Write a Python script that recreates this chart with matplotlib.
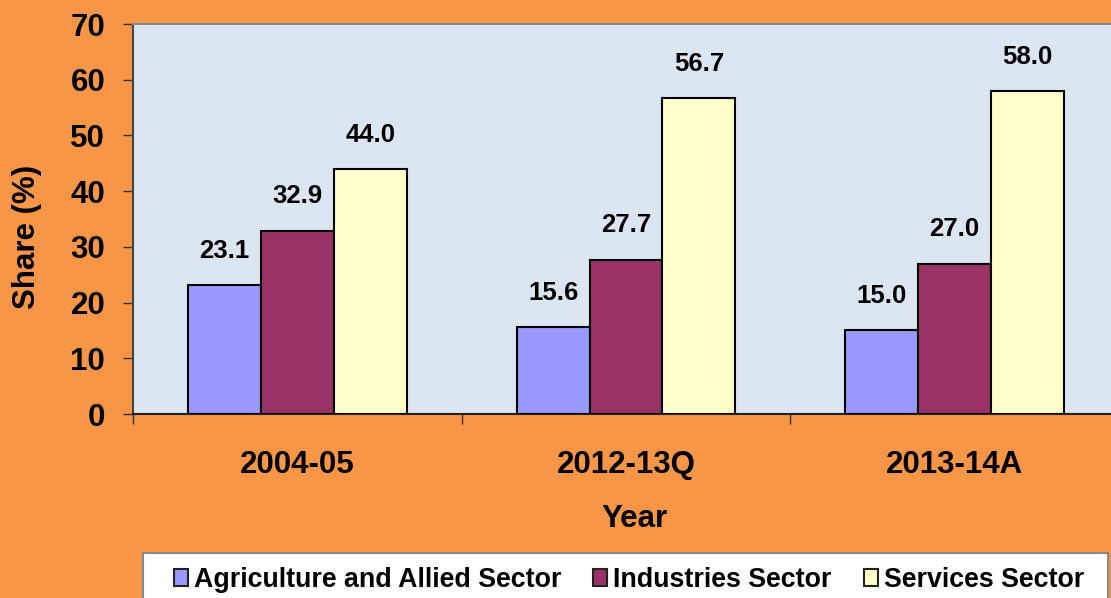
import matplotlib
matplotlib.use("Agg")
import matplotlib.pyplot as plt
import numpy as np
from matplotlib.patches import Patch, Rectangle

years = ["2004-05", "2012-13Q", "2013-14A"]
series_names = ["Agriculture and Allied Sector", "Industries Sector", "Services Sector"]
agri = [23.1, 15.6, 15.0]
industries = [32.9, 27.7, 27.0]
services = [44.0, 56.7, 58.0]
yticks = [0, 10, 20, 30, 40, 50, 60, 70]

colors = ["#9999FF", "#993366", "#FFFFCC"]
bg = "#F79646"
plot_bg = "#DCE6F2"

plt.rcParams['font.family'] = ['Liberation Sans', 'DejaVu Sans']
plt.rcParams['font.weight'] = 'bold'

W, H = 1111, 598
fig = plt.figure(figsize=(W / 100, H / 100), dpi=100, facecolor=bg)
ax = fig.add_axes([133 / W, 1 - 414 / H, (1119 - 133) / W, (414 - 24) / H])
ax.set_facecolor(plot_bg)

x = np.arange(len(years))
bw = 0.222
for i, (vals, c) in enumerate(zip([agri, industries, services], colors)):
    pos = x + (i - 1) * bw
    bars = ax.bar(pos, vals, width=bw, color=c, edgecolor="black", linewidth=1.5, zorder=3)
    for b, v in zip(bars, vals):
        ax.annotate(f"{v:.1f}", (b.get_x() + b.get_width() / 2, v), xytext=(0, 16),
                    textcoords="offset points", ha="center", va="bottom",
                    fontsize=18.5, fontweight="bold", color="black")

ax.set_xlim(-0.5, 2.5)
ax.set_ylim(0, 70)
ax.set_yticks(yticks)
ax.set_yticklabels([str(t) for t in yticks], fontsize=22.5, fontweight="bold")
ax.tick_params(axis="y", direction="out", length=7, width=1, color="#333333", pad=13)

ax.set_xticks(x)
ax.set_xticklabels(years, fontsize=22.5, fontweight="bold")
ax.set_xticks([-0.5, 0.5, 1.5, 2.5], minor=True)
ax.tick_params(axis="x", which="major", length=0, pad=26)
ax.tick_params(axis="x", which="minor", direction="out", length=7, width=1, color="#333333")

for s in ["top", "right"]:
    ax.spines[s].set_color("#888888")
    ax.spines[s].set_linewidth(1.5)
ax.spines["left"].set_color("#444444")
ax.spines["left"].set_linewidth(1.5)
ax.spines["bottom"].set_color("#222222")
ax.spines["bottom"].set_linewidth(1.5)

fig.text(634 / W, 1 - 519 / H, "Year", ha="center", va="center", fontsize=22.5, fontweight="bold")
fig.text(27 / W, 1 - 237 / H, "Share (%)", ha="center", va="center", rotation=90,
         fontsize=22.5, fontweight="bold")

# legend frame
fig.patches.append(Rectangle((143 / W, -0.02), (1108 - 143) / W, 0.02 + 1 - 553 / H,
                             transform=fig.transFigure, facecolor="white",
                             edgecolor="#888888", linewidth=1.5, zorder=1))

handles = [Patch(facecolor=c, edgecolor="#222222", linewidth=1.5) for c in colors]
leg = fig.legend(handles, series_names, loc="center", bbox_to_anchor=(629 / W, 1 - 580 / H),
                 ncol=3, fontsize=19.3, frameon=False,
                 handlelength=0.52, handleheight=0.6,
                 handletextpad=0.22, columnspacing=1.2, borderpad=0.2, borderaxespad=0)
for t in leg.get_texts():
    t.set_fontweight("bold")

fig.savefig("out.png", dpi=100, facecolor=bg)
